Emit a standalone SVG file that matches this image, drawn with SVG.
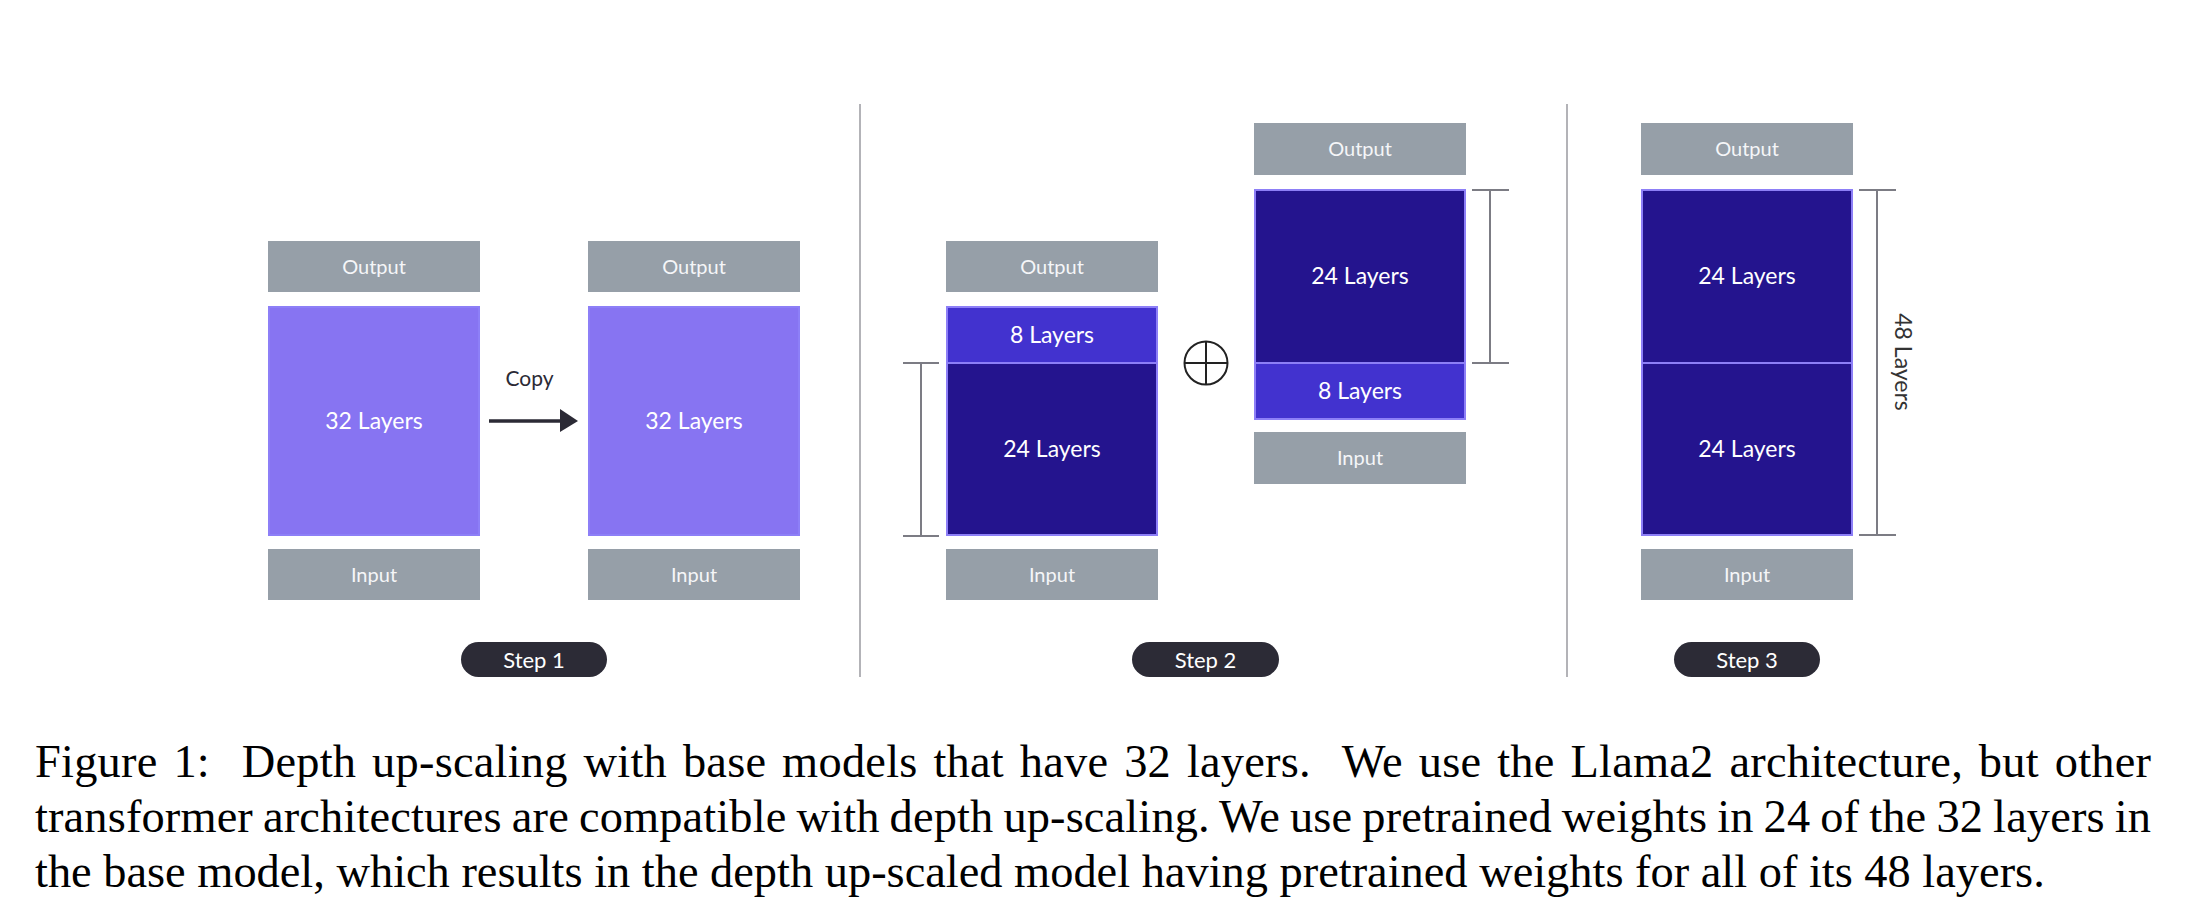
<svg xmlns="http://www.w3.org/2000/svg" width="2192" height="924" viewBox="0 0 2192 924">
<style>
.gray{fill:#969fa8}
.light{fill:#8774f2;stroke:#8d7ff7;stroke-width:2}
.mid{fill:#4232cf;stroke:#8d7ff7;stroke-width:2}
.dark{fill:#24148e;stroke:#8d7ff7;stroke-width:2}
.io{font-family:Lato,"Liberation Sans",sans-serif;font-size:20px;fill:#f5f6f8;text-anchor:middle}
.lay{font-family:Lato,"Liberation Sans",sans-serif;font-size:23px;fill:#ffffff;text-anchor:middle}
.pill{fill:#2c2b36}
.ptxt{font-family:Lato,"Liberation Sans",sans-serif;font-size:22px;fill:#ffffff;text-anchor:middle}
.br{stroke:#7c7c84;stroke-width:2;fill:none}
.div{stroke:#a0a0a6;stroke-width:1.6}
.cap{font-family:"Liberation Serif","Times New Roman",serif;font-size:46.4px;fill:#000}
</style>
<rect width="2192" height="924" fill="#ffffff"/>

<g id="step1-base">
<rect class="gray" x="268" y="241" width="212" height="51"/>
<text class="io" x="374" y="273.5">Output</text>
<rect class="light" x="269" y="307" width="210" height="228"/>
<text class="lay" x="374" y="429">32 Layers</text>
<rect class="gray" x="268" y="549" width="212" height="51"/>
<text class="io" x="374" y="581.5">Input</text>
</g>

<g id="step1-copy">
<rect class="gray" x="588" y="241" width="212" height="51"/>
<text class="io" x="694" y="273.5">Output</text>
<rect class="light" x="589" y="307" width="210" height="228"/>
<text class="lay" x="694" y="429">32 Layers</text>
<rect class="gray" x="588" y="549" width="212" height="51"/>
<text class="io" x="694" y="581.5">Input</text>
</g>

<g id="step2-left">
<rect class="gray" x="946" y="241" width="212" height="51"/>
<text class="io" x="1052" y="273.5">Output</text>
<rect class="mid" x="947" y="307" width="210" height="56"/>
<text class="lay" x="1052" y="343">8 Layers</text>
<rect class="dark" x="947" y="363" width="210" height="172"/>
<text class="lay" x="1052" y="457">24 Layers</text>
<rect class="gray" x="946" y="549" width="212" height="51"/>
<text class="io" x="1052" y="581.5">Input</text>
</g>

<g id="step2-right">
<rect class="gray" x="1254" y="123" width="212" height="52"/>
<text class="io" x="1360" y="156">Output</text>
<rect class="dark" x="1255" y="190" width="210" height="173"/>
<text class="lay" x="1360" y="284">24 Layers</text>
<rect class="mid" x="1255" y="363" width="210" height="56"/>
<text class="lay" x="1360" y="399">8 Layers</text>
<rect class="gray" x="1254" y="432" width="212" height="52"/>
<text class="io" x="1360" y="465">Input</text>
</g>

<g id="step3">
<rect class="gray" x="1641" y="123" width="212" height="52"/>
<text class="io" x="1747" y="156">Output</text>
<rect class="dark" x="1642" y="190" width="210" height="173"/>
<text class="lay" x="1747" y="284">24 Layers</text>
<rect class="dark" x="1642" y="363" width="210" height="172"/>
<text class="lay" x="1747" y="457">24 Layers</text>
<rect class="gray" x="1641" y="549" width="212" height="51"/>
<text class="io" x="1747" y="581.5">Input</text>
<text x="1904" y="362" transform="rotate(90 1904 362)" style="font-family:Lato,'Liberation Sans',sans-serif;font-size:23px;fill:#333;text-anchor:middle;dominant-baseline:central">48 Layers</text>
</g>

<g id="plus">
<circle cx="1206" cy="363" r="21.5" fill="none" stroke="#222" stroke-width="2"/>
<line x1="1184.5" y1="363" x2="1227.5" y2="363" stroke="#222" stroke-width="2"/>
<line x1="1206" y1="341.5" x2="1206" y2="384.5" stroke="#222" stroke-width="2"/>
</g>

<g id="connectors">
<line x1="489" y1="421" x2="562" y2="421" stroke="#2b2a35" stroke-width="3.5"/>
<polygon points="560,409 578,421 560,432" fill="#2b2a35"/>
<text x="529.5" y="386" style="font-family:Lato,'Liberation Sans',sans-serif;font-size:21px;fill:#2b2a35;text-anchor:middle">Copy</text>
<path class="br" d="M903 363H939M921 363V536M903 536H939"/>
<path class="br" d="M1472 190H1509M1490 190V363M1472 363H1509"/>
<path class="br" d="M1859 190H1896M1877 190V535M1859 535H1896"/>
</g>

<g id="dividers">
<line class="div" x1="860" y1="104" x2="860" y2="677"/>
<line class="div" x1="1567" y1="104" x2="1567" y2="677"/>
</g>

<g id="steps">
<rect class="pill" x="461" y="642" width="146" height="35" rx="17.5"/>
<text class="ptxt" x="534" y="667.5">Step 1</text>
<rect class="pill" x="1132" y="642" width="147" height="35" rx="17.5"/>
<text class="ptxt" x="1205.5" y="667.5">Step 2</text>
<rect class="pill" x="1674" y="642" width="146" height="35" rx="17.5"/>
<text class="ptxt" x="1747" y="667.5">Step 3</text>
</g>

<g id="caption">
<text class="cap" x="35" y="777" xml:space="preserve" style="word-spacing:4px" textLength="2116" lengthAdjust="spacing">Figure 1:  Depth up-scaling with base models that have 32 layers.  We use the Llama2 architecture, but other</text>
<text class="cap" x="35" y="832" style="word-spacing:-1.7px" textLength="2116" lengthAdjust="spacing">transformer architectures are compatible with depth up-scaling. We use pretrained weights in 24 of the 32 layers in</text>
<text class="cap" x="35" y="887">the base model, which results in the depth up-scaled model having pretrained weights for all of its 48 layers.</text>
</g>
</svg>
